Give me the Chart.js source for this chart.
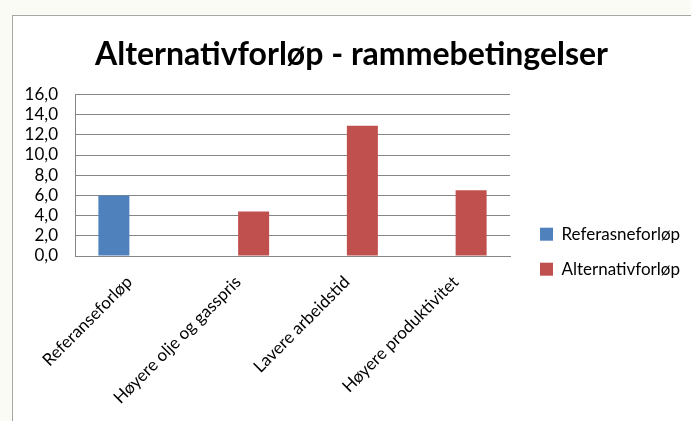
<!DOCTYPE html>
<html>
<head>
<meta charset="utf-8">
<script src="https://cdn.jsdelivr.net/npm/chart.js@4.4.1/dist/chart.umd.min.js"></script>
<style>
    html, body { margin: 0; padding: 0; width: 691px; height: 421px; overflow: hidden; background: #FBFBF5; }
    #frame { position: absolute; left: 12px; top: 15px; width: 700px; height: 420px; border: 1px solid #A6A6A6; background: #fff; }
    #wrap { position: absolute; left: 13px; top: 16px; width: 678px; height: 405px; }
</style>
</head>
<body>
<div id="frame"></div>
<div id="wrap"><canvas id="chartRamme"></canvas></div>
<script>
// ── Data ──────────────────────────────────────────────────
const categories = ['Referanseforløp', 'Høyere olje og gasspris', 'Lavere arbeidstid', 'Høyere produktivitet'];
const referanse = [6.0, null, null, null];
const alternativ = [null, 4.4, 12.9, 6.5];
const seriesNames = ['Referasneforløp', 'Alternativforløp'];
const yTicks = { min: 0, max: 16, step: 2 };

const blue = '#4F81BD';
const red = '#C0504D';
const gridColor = '#868686';
const font = "Lato, 'Open Sans', sans-serif";
const legendSize = 17, legendPad = 18, legendBox = 13;

Chart.defaults.font.family = font;
Chart.defaults.color = '#000';

// legend width so that its left edge stays at a fixed x
const mctx = document.createElement('canvas').getContext('2d');
mctx.font = legendSize + 'px ' + font;
const textW = Math.max(...seriesNames.map(n => mctx.measureText(n).width));
const legendW = legendPad + legendBox + legendSize / 2 + textW + 10;
const padRight = Math.max(0, 678 - 509 - legendW);

new Chart(document.getElementById('chartRamme'), {
    type: 'bar',
    data: {
        labels: categories,
        datasets: [
            { label: seriesNames[0], data: referanse, backgroundColor: blue, borderWidth: 0 },
            { label: seriesNames[1], data: alternativ, backgroundColor: red, borderWidth: 0 }
        ]
    },
    options: {
        responsive: true, maintainAspectRatio: false, animation: false,
        categoryPercentage: 0.57, barPercentage: 1,
        layout: { padding: { right: padRight } },
        plugins: {
            title: {
                display: true, text: 'Alternativforløp - rammebetingelser', color: '#000',
                font: { size: 32, weight: 'bold' }, padding: { top: 19, bottom: 21 }
            },
            legend: {
                position: 'right', align: 'center', maxWidth: 300,
                title: { display: true, text: ' ', padding: { top: 52, bottom: 0 } },
                labels: { boxWidth: legendBox, boxHeight: legendBox, padding: legendPad, color: '#000', font: { size: legendSize } }
            },
            tooltip: { enabled: false }
        },
        scales: {
            x: {
                grid: { display: false },
                border: { color: gridColor },
                ticks: { minRotation: 45, maxRotation: 45, padding: 8, font: { size: 17 }, color: '#000' },
                afterFit: s => { s.height = 165; }
            },
            y: {
                min: yTicks.min, max: yTicks.max,
                grid: { color: gridColor, drawTicks: false },
                border: { color: gridColor },
                ticks: {
                    stepSize: yTicks.step, autoSkip: false, padding: 17, font: { size: 17 }, color: '#000',
                    callback: v => v.toFixed(1).replace('.', ',')
                },
                afterFit: s => { s.width = 62; }
            },
            gap: {
                type: 'linear', position: 'right',
                grid: { display: false }, border: { display: false }, ticks: { display: false },
                afterFit: s => { s.width = 12; }
            }
        }
    }
});
</script>
</body>
</html>
